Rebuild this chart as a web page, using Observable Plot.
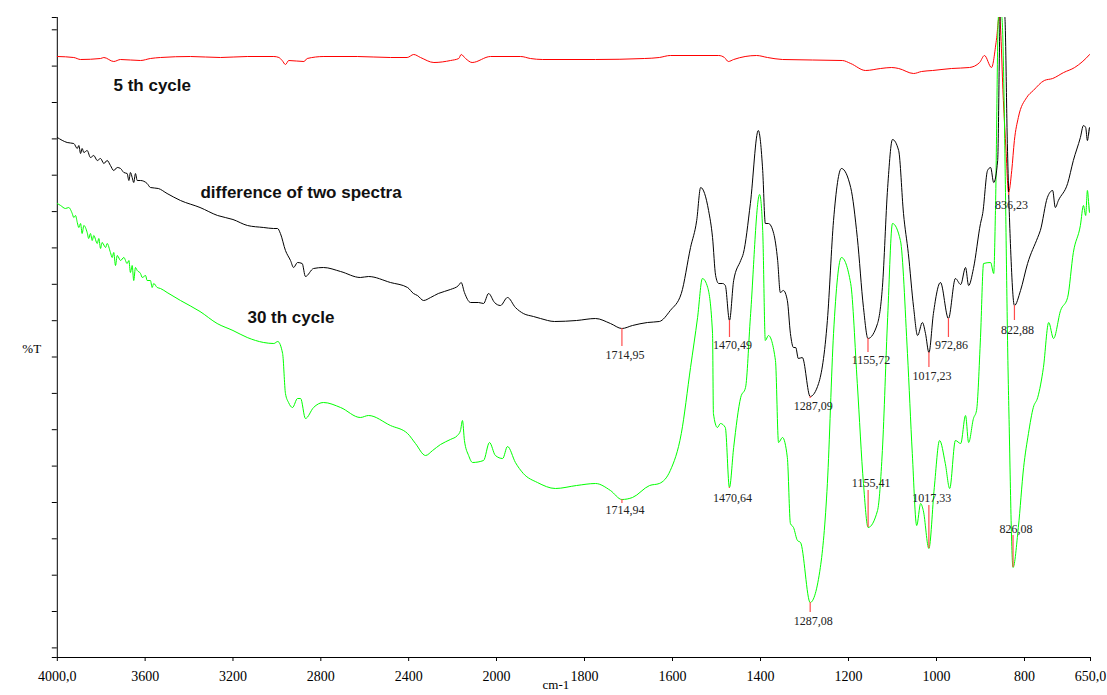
<!DOCTYPE html>
<html>
<head>
<meta charset="utf-8">
<script src="https://cdn.jsdelivr.net/npm/d3@7"></script>
<script src="https://cdn.jsdelivr.net/npm/@observablehq/plot@0.6"></script>
<style>
  html, body { margin: 0; padding: 0; background: #fff; }
  #chart svg { display: block; font-family: 'Liberation Serif', 'Times New Roman', serif; font-size: 14px; }
</style>
</head>
<body>
<div id="chart"></div>
<script>
// IR transmittance spectra: wavenumber (cm-1) and %T (arbitrary offset units)

const xTicks = [4000, 3600, 3200, 2800, 2400, 2000, 1800, 1600, 1400, 1200, 1000, 800, 650];
const xTickLabels = ["4000,0", "3600", "3200", "2800", "2400", "2000", "1800", "1600", "1400", "1200", "1000", "800", "650,0"];
const yTicks = [0, 0.96, 4.6, 8.23, 11.87, 15.5, 19.14, 22.78, 26.41, 30.05, 33.68, 37.32, 40.96, 44.59, 48.23, 51.86, 55.5, 59.14, 62.77, 64];

const seriesNames = ["5 th cycle", "difference of two spectra", "30 th cycle"];
const seriesColors = ["#ff0000", "#000000", "#00ff00"];

// 5th cycle
const cycle5 = [
  [4000,60.1],[3925,60.0],[3894,59.8],[3803,59.9],[3788,60.0],[3743,59.6],[3712,59.8],[3621,59.7],[3576,59.9],
  [3530,60.0],[3394,60.1],[3257,60.0],[3135,60.1],[3014,60.1],[2991,60.0],[2976,59.7],[2961,59.3],[2946,59.7],
  [2877,59.6],[2862,59.9],[2786,60.1],[2634,60.1],[2483,60.0],[2407,60.0],[2377,60.3],[2346,60.0],[2285,59.5],
  [2209,59.7],[2172,59.9],[2161,60.3],[2141,59.9],[2111,59.5],[2027,60.1],[1945,60.1],[1923,59.9],[1895,59.8],
  [1775,59.8],[1664,59.9],[1630,60.0],[1605,60.2],[1495,60.2],[1482,60.0],[1473,59.6],[1461,59.8],[1409,60.2],
  [1384,60.0],[1350,59.8],[1214,59.7],[1195,59.4],[1161,58.7],[1127,58.9],[1102,59.0],[1086,58.9],[1052,58.4],
  [1034,58.6],[1009,58.7],[966,58.9],[925,59.0],[902,59.5],[891,60.2],[875,59.0],[864,61.7],[857,64.2],
  [848,55.7],[842,50.7],[836.23,46.5],[829,48.7],[823,51.7],[814,54.0],[795,56.0],[780,56.7],[755,57.7],
  [736,57.9],[711,58.5],[686,59.0],[652,60.3],[650,60.4]
];

// difference of two spectra
const difference = [
  [4000,52.0],[3955,51.5],[3925,51.4],[3909,50.9],[3902,51.2],[3894,50.4],[3887,50.9],[3879,50.5],[3864,50.7],
  [3849,50.0],[3834,50.2],[3818,49.7],[3803,49.9],[3788,49.4],[3773,49.7],[3758,49.2],[3743,48.7],[3727,49.0],
  [3712,48.9],[3697,48.5],[3682,48.4],[3674,47.7],[3667,48.5],[3659,48.0],[3652,47.5],[3644,48.4],[3636,47.7],
  [3621,47.7],[3591,47.4],[3576,47.0],[3540,46.9],[3500,46.4],[3439,45.7],[3350,45.0],[3270,44.2],[3200,43.8],
  [3134,43.2],[3060,43.0],[3015,42.9],[2997,42.9],[2984,42.4],[2961,40.7],[2938,39.7],[2924,39.0],[2906,39.5],
  [2885,39.4],[2870,38.1],[2833,38.9],[2788,39.0],[2710,38.6],[2620,38.0],[2583,38.1],[2483,37.5],[2405,37.0],
  [2378,36.4],[2360,36.2],[2332,35.7],[2300,36.0],[2265,36.4],[2210,36.8],[2173,37.2],[2161,37.5],[2146,36.5],
  [2118,35.5],[2082,35.5],[2059,35.4],[2036,36.4],[2009,35.5],[1991,35.2],[1975,36.0],[1957,35.0],[1939,34.4],
  [1916,34.1],[1900,33.9],[1868,33.6],[1818,33.7],[1775,33.9],[1741,33.4],[1714.95,32.9],[1691,33.2],[1657,33.5],
  [1630,33.6],[1605,34.7],[1580,36.4],[1559,41.0],[1545,43.7],[1536,47.0],[1518,44.7],[1509,42.0],[1502,38.2],
  [1495,37.4],[1486,37.4],[1480,37.2],[1470.49,33.7],[1461,37.7],[1445,39.7],[1439,40.4],[1423,45.4],[1405,52.7],
  [1395,48.7],[1389,43.4],[1382,43.4],[1370,42.4],[1361,39.7],[1355,36.5],[1348,36.7],[1339,35.7],[1332,32.4],
  [1325,31.0],[1320,31.0],[1314,29.9],[1305,30.0],[1287.09,26.1],[1268,27.4],[1248,33.7],[1234,43.7],[1216,48.9],
  [1195,47.0],[1180,42.0],[1166,35.0],[1155.72,31.9],[1134,33.4],[1123,37.0],[1111,47.0],[1100,51.8],[1086,50.7],
  [1075,44.4],[1064,40.4],[1052,35.0],[1043,32.2],[1032,33.5],[1025,32.4],[1017.23,30.5],[1007,34.4],[991,37.5],
  [972.86,33.9],[957,37.9],[945,37.3],[934,39.0],[927,37.2],[916,38.9],[900,43.4],[895,44.4],[884,48.7],
  [877,49.0],[870,47.5],[861,49.7],[855,64.2],[845,64.2],[839,51.4],[832,41.4],[822.88,35.2],[809,36.7],
  [793,39.4],[770,42.0],[764,42.7],[748,46.0],[736,46.7],[730,45.0],[723,45.7],[702,47.4],[689,49.7],
  [673,52.0],[666,53.2],[661,53.0],[657,51.7],[652,53.0],[650,52.2]
];

// 30th cycle
const cycle30 = [
  [4000,45.4],[3985,45.2],[3963,44.9],[3948,45.0],[3932,44.4],[3925,44.0],[3917,44.2],[3909,43.5],[3902,43.0],
  [3894,43.4],[3887,42.4],[3879,43.2],[3864,42.5],[3857,41.9],[3849,42.4],[3841,41.7],[3834,42.2],[3818,41.4],
  [3811,41.9],[3803,40.9],[3796,41.5],[3780,41.0],[3773,41.4],[3758,40.5],[3750,40.0],[3743,40.5],[3735,39.2],
  [3727,40.2],[3712,39.7],[3697,40.0],[3682,39.4],[3674,39.7],[3667,38.5],[3659,39.2],[3652,37.7],[3644,39.0],
  [3636,38.7],[3621,38.4],[3613,38.0],[3598,38.2],[3591,37.7],[3576,37.7],[3568,37.0],[3561,37.4],[3545,37.0],
  [3530,36.9],[3500,36.5],[3439,35.7],[3350,34.6],[3272,33.4],[3200,32.7],[3135,32.0],[3060,31.5],[3014,31.4],
  [2996,31.6],[2974,30.4],[2961,26.4],[2947,25.5],[2929,25.0],[2906,25.9],[2892,25.9],[2870,23.9],[2833,25.0],
  [2788,25.5],[2710,25.0],[2620,24.0],[2583,24.2],[2483,23.2],[2405,22.4],[2369,21.4],[2323,20.2],[2291,20.7],
  [2255,21.3],[2210,21.8],[2178,22.2],[2164,22.7],[2155,23.7],[2146,21.7],[2127,20.2],[2109,19.5],[2059,19.7],
  [2032,21.5],[2005,20.2],[1986,19.9],[1975,21.1],[1957,19.5],[1939,18.4],[1907,17.5],[1866,16.9],[1818,17.2],
  [1775,17.4],[1741,16.7],[1714.94,15.8],[1691,16.0],[1652,17.2],[1630,17.4],[1605,18.7],[1580,22.4],[1559,29.0],
  [1543,34.0],[1532,37.9],[1520,37.0],[1509,32.4],[1507,24.4],[1498,23.0],[1491,23.4],[1480,23.0],[1470.64,17.0],
  [1461,21.0],[1445,26.0],[1434,27.0],[1423,34.0],[1402,46.3],[1395,42.7],[1389,31.7],[1382,32.2],[1366,29.7],
  [1359,21.5],[1350,22.0],[1339,20.0],[1332,13.4],[1325,13.0],[1316,11.7],[1309,11.5],[1287.08,5.5],[1264,9.0],
  [1248,17.4],[1234,32.4],[1216,40.0],[1195,37.4],[1180,27.4],[1166,17.4],[1155.41,13.0],[1134,14.7],[1123,20.7],
  [1111,34.0],[1100,43.4],[1082,41.7],[1066,30.4],[1055,20.4],[1045,13.2],[1036,15.4],[1030,14.7],[1017.33,10.9],
  [1005,17.0],[993,21.7],[980,19.4],[970,16.9],[957,21.7],[945,21.4],[934,24.2],[927,21.5],[916,23.9],
  [909,24.7],[900,32.0],[893,39.4],[877,39.5],[870,38.4],[866,44.7],[859,64.2],[852,64.2],[836,25.7],
  [826.08,9.0],[814,13.0],[802,19.0],[791,22.4],[780,25.0],[770,26.0],[757,29.0],[745,33.5],[734,31.9],
  [718,34.7],[702,36.0],[689,40.5],[673,43.2],[666,45.2],[661,44.2],[657,46.7],[652,44.5],[650,45.5]
];

// Picked peaks: wavenumber, printed label, and the spectrum it belongs to
const peakWavenumbers = [1714.95, 1470.49, 1287.09, 1155.72, 1017.23, 972.86, 822.88, 836.23,
                         1714.94, 1470.64, 1287.08, 1155.41, 1017.33, 826.08];
const peakLabels = ["1714,95", "1470,49", "1287,09", "1155,72", "1017,23", "972,86", "822,88", "836,23",
                    "1714,94", "1470,64", "1287,08", "1155,41", "1017,33", "826,08"];
const peakSeries = ["difference of two spectra", "difference of two spectra", "difference of two spectra",
                    "difference of two spectra", "difference of two spectra", "difference of two spectra",
                    "difference of two spectra", "5 th cycle",
                    "30 th cycle", "30 th cycle", "30 th cycle", "30 th cycle", "30 th cycle", "30 th cycle"];

// ---- layout ----
const W = 1107, H = 695;
const frame = {left: 56.8, right: 1090, top: 17, bottom: 657};
const tDomain = [0, 64];
const pxPerT = (frame.bottom - frame.top) / (tDomain[1] - tDomain[0]);
const xBreak = 2000, xBreakPx = 496; // 4000–2000 drawn at half the density of 2000–650
const serif = "'Liberation Serif', 'Times New Roman', serif";
const sans = "'Liberation Sans', Arial, sans-serif";

const toRows = (arr, name) => arr.map(([wn, T]) => ({wn, T, name}));
const spectra = {
  "5 th cycle": toRows(cycle5, "5 th cycle"),
  "difference of two spectra": toRows(difference, "difference of two spectra"),
  "30 th cycle": toRows(cycle30, "30 th cycle")
};

// marker tick length and label offset in pixels (positive = downward)
const markerLayout = {
  "1714,95": [18, 27], "1470,49": [17, 25], "1287,09": [2, 10], "1155,72": [14, 22],
  "1017,23": [15, 24], "972,86": [19, 27], "822,88": [15, 25], "836,23": [3, 13],
  "1714,94": [4, 11], "1470,64": [1, 11], "1287,08": [10, 19], "1155,41": [-37, -44],
  "1017,33": [-43, -50], "826,08": [-32, -38]
};

const peaks = peakWavenumbers.map((wn, i) => {
  const pt = spectra[peakSeries[i]].find(d => d.wn === wn);
  const [tick, off] = markerLayout[peakLabels[i]];
  return {wn, T: pt.T, label: peakLabels[i], tick, off};
});

// series caption anchors (left edge, baseline) in data units
const captionAnchor = {
  "5 th cycle": [3744, 56.63],
  "difference of two spectra": [3348, 45.97],
  "30 th cycle": [3134, 33.43]
};
const captions = seriesNames.map(name => ({name, wn: captionAnchor[name][0], T: captionAnchor[name][1]}));

const tickLabelOf = new Map(xTicks.map((t, i) => [t, xTickLabels[i]]));

const axisMarks = Plot.axisX ? [
  Plot.axisX({ticks: xTicks, tickFormat: d => tickLabelOf.get(d), tickSize: 4, tickPadding: 10,
              fontSize: 14, fontFamily: serif, label: null}),
  Plot.axisY({ticks: yTicks, tickFormat: () => "", tickSize: 5, label: null})
] : [];

const chart = Plot.plot({
  width: W,
  height: H,
  marginLeft: frame.left,
  marginRight: W - frame.right,
  marginTop: frame.top,
  marginBottom: H - frame.bottom,
  style: {background: "#fff", color: "#000", fontFamily: serif, fontSize: "14px"},
  x: {
    type: "linear",
    domain: [4000, xBreak, 650],
    range: [frame.left, xBreakPx, frame.right],
    ticks: xTicks,
    tickFormat: d => tickLabelOf.get(d),
    tickSize: 4,
    tickPadding: 10,
    label: null
  },
  y: {
    domain: tDomain,
    ticks: yTicks,
    tickFormat: () => "",
    tickSize: 5,
    label: null
  },
  marks: [
    ...axisMarks,
    Plot.ruleX([4000], {stroke: "#000", strokeWidth: 1}),
    Plot.ruleY([tDomain[0]], {stroke: "#000", strokeWidth: 1}),
    Plot.line(spectra["5 th cycle"], {x: "wn", y: "T", stroke: seriesColors[0], strokeWidth: 1, curve: "monotone-x", clip: true}),
    Plot.line(spectra["30 th cycle"], {x: "wn", y: "T", stroke: seriesColors[2], strokeWidth: 1, curve: "monotone-x", clip: true}),
    Plot.line(spectra["difference of two spectra"], {x: "wn", y: "T", stroke: seriesColors[1], strokeWidth: 1, curve: "monotone-x", clip: true}),
    Plot.ruleX(peaks, {x: "wn", y1: "T", y2: d => d.T - d.tick / pxPerT, stroke: "#ff4d4d", strokeWidth: 1.2}),
    Plot.text(peaks, {
      x: "wn", y: d => d.T - d.off / pxPerT, text: "label", dx: 3,
      fontSize: 12, fontFamily: serif, fill: "#222"
    }),
    Plot.text(captions, {
      x: "wn", y: "T", text: "name", textAnchor: "start", lineAnchor: "bottom",
      fontSize: 17, fontWeight: "bold", fontFamily: sans, fill: "#111"
    }),
    // axis title sits just left of the "1800" tick label so the two do not collide
    Plot.text(["cm-1"], {text: d => d, frameAnchor: "bottom", dx: -18, dy: 31, fontSize: 13, fontFamily: serif}),
    Plot.text(["%T"], {text: d => d, frameAnchor: "left", dx: -35, dy: 11, fontSize: 13, fontFamily: serif})
  ]
});

document.getElementById("chart").appendChild(chart);
</script>
</body>
</html>
